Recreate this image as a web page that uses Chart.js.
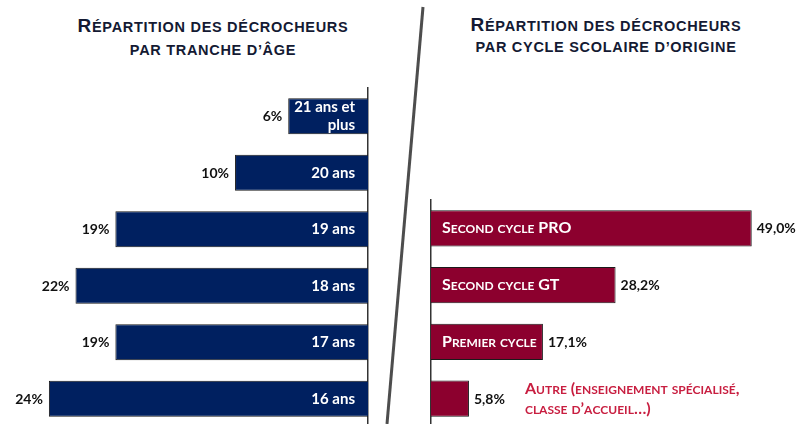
<!DOCTYPE html>
<html lang="fr">
<head>
<meta charset="utf-8">
<script src="https://cdn.jsdelivr.net/npm/chart.js@4/dist/chart.umd.min.js"></script>
<style>
  html, body { margin: 0; padding: 0; background: #fff; width: 800px; height: 424px; overflow: hidden; }
  canvas { position: absolute; top: 0; }
  #ageChart { left: 0; }
  #cycleChart { left: 400px; }
  .title {
    position: absolute; top: 14px; width: 400px; text-align: center;
    font-family: "Liberation Sans", Arial, sans-serif; font-weight: bold;
    color: #141a33; line-height: 23px; font-size: 14.5px; letter-spacing: 0.7px;
  }
  .title .b { font-size: 19px; }
  .title .s { font-size: 14.5px; text-transform: uppercase; }
  #titleLeft { left: 13px; }
  #titleRight { left: 406px; line-height: 21px; }
  svg { position: absolute; left: 0; top: 0; }
</style>
</head>
<body>
<div class="title" id="titleLeft"><span class="b">R</span><span class="s">épartition des décrocheurs</span><br><span class="s">par tranche d’âge</span></div>
<div class="title" id="titleRight"><span class="b">R</span><span class="s">épartition des décrocheurs</span><br><span class="s">par cycle scolaire d’origine</span></div>
<canvas id="ageChart" width="400" height="430"></canvas>
<canvas id="cycleChart" width="400" height="430"></canvas>
<svg width="800" height="424"><line x1="423" y1="7" x2="387" y2="424" stroke="#4d4d4d" stroke-width="3"/></svg>
<script>
// data
const ageLabels = [['21 ans et', 'plus'], '20 ans', '19 ans', '18 ans', '17 ans', '16 ans'];
const ageValues = [6, 10, 19, 22, 19, 24];
const cycleLabels = ['Second cycle PRO', 'Second cycle GT', 'Premier cycle',
  ['Autre (enseignement spécialisé,', 'classe d’accueil…)']];
const cycleValues = [49.0, 28.2, 17.1, 5.8];

const navy = '#002060';
const wine = '#8c002e';

// draw text with fake small caps: lowercase letters get upper case at a smaller size
function smallCapsWidth(ctx, text, big, small) {
  let w = 0;
  for (const ch of text) {
    const low = ch !== ch.toUpperCase();
    ctx.font = 'bold ' + (low ? small : big) + 'px Lato';
    w += ctx.measureText(low ? ch.toUpperCase() : ch).width;
  }
  return w;
}
function drawSmallCaps(ctx, text, x, y, big, small) {
  ctx.textAlign = 'left';
  for (const ch of text) {
    const low = ch !== ch.toUpperCase();
    const c = low ? ch.toUpperCase() : ch;
    ctx.font = 'bold ' + (low ? small : big) + 'px Lato';
    ctx.fillText(c, x, y);
    x += ctx.measureText(c).width;
  }
}

// labels on the left chart (bars grow to the left)
const ageLabelPlugin = {
  id: 'ageLabels',
  afterDatasetsDraw(chart) {
    const ctx = chart.ctx;
    ctx.save();
    ctx.textBaseline = 'alphabetic';
    chart.getDatasetMeta(0).data.forEach((bar, i) => {
      const lines = [].concat(ageLabels[i]);
      ctx.font = 'bold 15px Lato';
      ctx.fillStyle = '#ffffff';
      ctx.textAlign = 'right';
      lines.forEach((t, k) => {
        ctx.fillText(t, bar.base - 13, bar.y + 5 + (k - (lines.length - 1) / 2) * 18);
      });
      ctx.font = 'bold 14px Lato';
      ctx.fillStyle = '#111111';
      ctx.fillText(ageValues[i] + '%', bar.x - 6, bar.y + 5);
    });
    ctx.restore();
  }
};

// labels on the right chart (inside the bar when it fits, otherwise after the value)
const cycleLabelPlugin = {
  id: 'cycleLabels',
  afterDatasetsDraw(chart) {
    const ctx = chart.ctx;
    ctx.save();
    ctx.textBaseline = 'alphabetic';
    chart.getDatasetMeta(0).data.forEach((bar, i) => {
      const valText = cycleValues[i].toFixed(1).replace('.', ',') + '%';
      ctx.font = 'bold 14px Lato';
      ctx.fillStyle = '#111111';
      ctx.textAlign = 'left';
      ctx.fillText(valText, bar.x + 5, bar.y + 5);
      const valW = ctx.measureText(valText).width;

      const lines = [].concat(cycleLabels[i]);
      const w = Math.max(...lines.map(t => smallCapsWidth(ctx, t, 16, 12)));
      const inside = w < bar.x - bar.base - 14;
      ctx.fillStyle = inside ? '#ffffff' : '#c81e40';
      const x = inside ? bar.base + 11 : bar.x + 5 + valW + 20;
      lines.forEach((t, k) => {
        drawSmallCaps(ctx, t, x, bar.y + 5 + (k - (lines.length - 1) / 2) * 20, 16, 12);
      });
    });
    ctx.restore();
  }
};

new Chart(document.getElementById('ageChart'), {
  type: 'bar',
  data: {
    labels: ageLabels,
    datasets: [{
      data: ageValues,
      backgroundColor: navy,
      borderColor: '#1a1a1a',
      borderWidth: 1,
      barPercentage: 0.64,
      categoryPercentage: 1
    }]
  },
  options: {
    indexAxis: 'y',
    responsive: false,
    animation: false,
    layout: { padding: { left: 9, right: 32, top: 88, bottom: 3 } },
    scales: {
      x: { reverse: true, min: 0, max: 27, display: false },
      y: {
        position: 'right',
        ticks: { display: false },
        grid: { display: false, drawTicks: false },
        border: { display: true, color: '#333333', width: 1.5 }
      }
    },
    plugins: { legend: { display: false }, tooltip: { enabled: false } }
  },
  plugins: [ageLabelPlugin]
});

new Chart(document.getElementById('cycleChart'), {
  type: 'bar',
  data: {
    labels: cycleLabels,
    datasets: [{
      data: cycleValues,
      backgroundColor: wine,
      borderColor: '#1a1a1a',
      borderWidth: 1,
      barPercentage: 0.64,
      categoryPercentage: 1
    }]
  },
  options: {
    indexAxis: 'y',
    responsive: false,
    animation: false,
    layout: { padding: { left: 31, right: 9, top: 200, bottom: 3 } },
    scales: {
      x: { min: 0, max: 55, display: false },
      y: {
        position: 'left',
        ticks: { display: false },
        grid: { display: false, drawTicks: false },
        border: { display: true, color: '#333333', width: 1.5 }
      }
    },
    plugins: { legend: { display: false }, tooltip: { enabled: false } }
  },
  plugins: [cycleLabelPlugin]
});
</script>
</body>
</html>
